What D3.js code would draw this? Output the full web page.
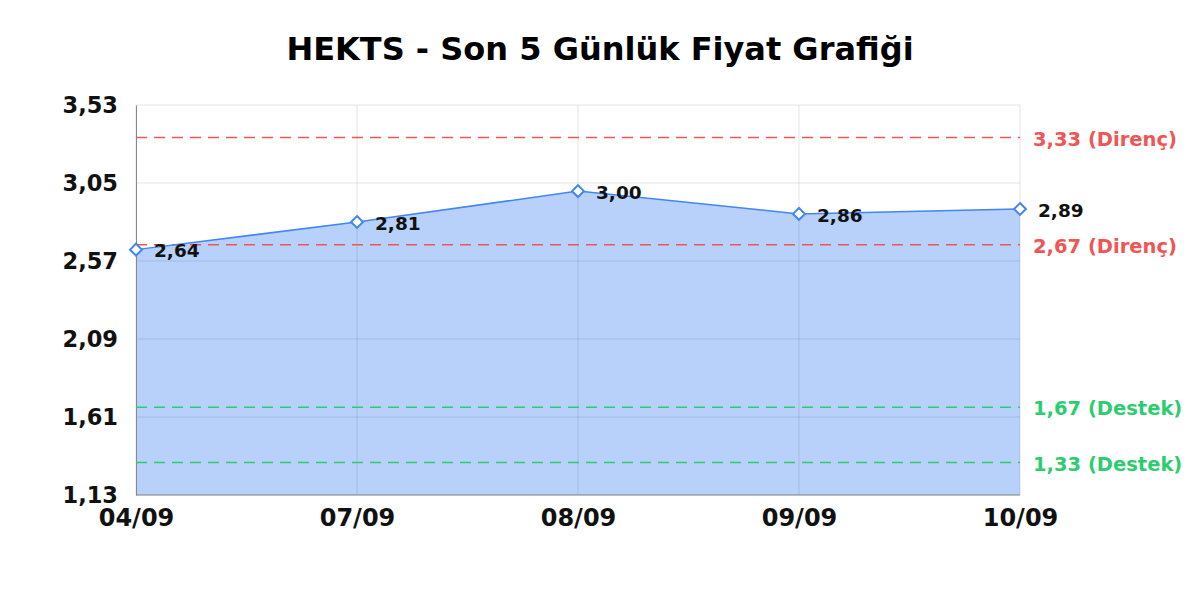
<!DOCTYPE html>
<html>
<head>
<meta charset="utf-8">
<script src="https://cdn.jsdelivr.net/npm/d3@7"></script>
<style>
  body { margin: 0; background: #fff; }
  text { font-family: "DejaVu Sans", sans-serif; font-weight: bold; }
</style>
</head>
<body>
<div id="chart"></div>
<script>
var dates = ["04/09", "07/09", "08/09", "09/09", "10/09"];
var prices = [2.64, 2.81, 3.00, 2.86, 2.89];
var yTicks = [1.13, 1.61, 2.09, 2.57, 3.05, 3.53];
var levelValues = [3.33, 2.67, 1.67, 1.33];
var levelNames = ["Direnç", "Direnç", "Destek", "Destek"];

var W = 1200, H = 600;
var m = {left: 136, right: 180, top: 105, bottom: 105};
var fmt = function(v) { return v.toFixed(2).replace(".", ","); };

var svg = d3.select("#chart").append("svg")
  .attr("width", W).attr("height", H);

var x = d3.scalePoint().domain(dates).range([m.left, W - m.right]);
var y = d3.scaleLinear().domain([yTicks[0], yTicks[yTicks.length - 1]]).range([H - m.bottom, m.top]);

svg.append("text")
  .attr("x", W / 2).attr("y", 60)
  .attr("text-anchor", "middle")
  .style("font-size", "32px")
  .text("HEKTS - Son 5 Günlük Fiyat Grafiği");

// area under the price line
var area = d3.area()
  .x(function(d, i) { return x(dates[i]); })
  .y0(y(yTicks[0]))
  .y1(function(d) { return y(d); });

svg.append("path")
  .datum(prices)
  .attr("d", area)
  .attr("fill", "rgba(66,133,244,0.38)");

// grid
svg.append("g").selectAll("line.h")
  .data(yTicks).join("line")
  .attr("x1", m.left).attr("x2", W - m.right)
  .attr("y1", function(d) { return y(d); })
  .attr("y2", function(d) { return y(d); })
  .attr("stroke", "rgba(0,0,0,0.1)");

svg.append("g").selectAll("line.v")
  .data(dates).join("line")
  .attr("x1", function(d) { return x(d); })
  .attr("x2", function(d) { return x(d); })
  .attr("y1", m.top).attr("y2", H - m.bottom)
  .attr("stroke", "rgba(0,0,0,0.1)");

// axes
var yAxis = svg.append("g")
  .attr("transform", "translate(" + m.left + ",0)")
  .call(d3.axisLeft(y).tickValues(yTicks).tickFormat(fmt).tickSize(0).tickPadding(18));
yAxis.select(".domain").attr("stroke", "#888");
yAxis.selectAll("text").style("font-size", "22.5px").attr("fill", "#111");

var xAxis = svg.append("g")
  .attr("transform", "translate(0," + (H - m.bottom) + ")")
  .call(d3.axisBottom(x).tickSize(0).tickPadding(14));
xAxis.select(".domain").attr("stroke", "#888").attr("d", "M" + m.left + ",0H" + (W - m.right));
xAxis.selectAll("text").style("font-size", "24px").attr("fill", "#111");

// support / resistance lines
var levelColor = function(i) { return levelNames[i] === "Direnç" ? "#f05454" : "#2ecc71"; };

svg.append("g").selectAll("line")
  .data(levelValues).join("line")
  .attr("x1", m.left).attr("x2", W - m.right)
  .attr("y1", function(d) { return y(d); })
  .attr("y2", function(d) { return y(d); })
  .attr("stroke", function(d, i) { return levelColor(i); })
  .attr("stroke-width", 1.5)
  .attr("stroke-dasharray", "11,7");

svg.append("g").selectAll("text")
  .data(levelValues).join("text")
  .attr("x", W - m.right + 13)
  .attr("y", function(d) { return y(d); })
  .attr("dy", "0.42em")
  .attr("fill", function(d, i) { return levelColor(i); })
  .style("font-size", "19.5px")
  .text(function(d, i) { return fmt(d) + " (" + levelNames[i] + ")"; });

// price line
var line = d3.line()
  .x(function(d, i) { return x(dates[i]); })
  .y(function(d) { return y(d); });

svg.append("path")
  .datum(prices)
  .attr("d", line)
  .attr("fill", "none")
  .attr("stroke", "#4285f4")
  .attr("stroke-width", 1.5);

svg.append("g").selectAll("path")
  .data(prices).join("path")
  .attr("d", d3.symbol(d3.symbolDiamond2, 90))
  .attr("transform", function(d, i) { return "translate(" + x(dates[i]) + "," + y(d) + ")"; })
  .attr("fill", "#fff")
  .attr("stroke", "#4285f4")
  .attr("stroke-width", 2);

svg.append("g").selectAll("text")
  .data(prices).join("text")
  .attr("x", function(d, i) { return x(dates[i]) + 18; })
  .attr("y", function(d) { return y(d); })
  .attr("dy", "0.42em")
  .style("font-size", "18.5px")
  .attr("fill", "#111")
  .text(fmt);
</script>
</body>
</html>
